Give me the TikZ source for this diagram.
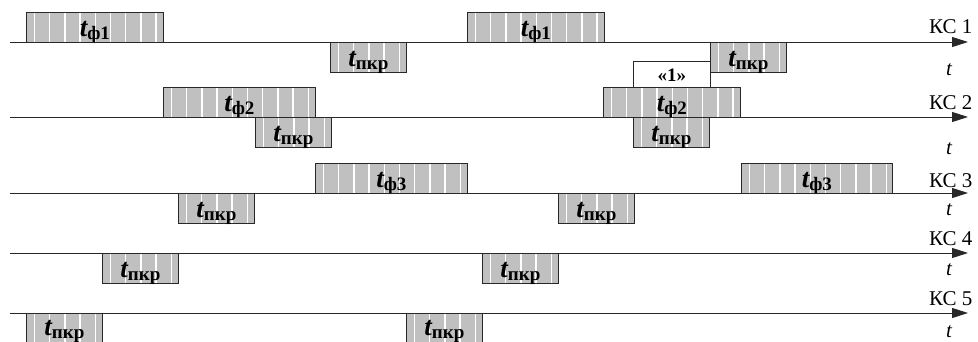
\documentclass[tikz,border=0pt]{standalone}
\usepackage{fontspec}
\setmainfont{Liberation Serif}
\usetikzlibrary{arrows.meta}
\definecolor{boxgray}{RGB}{192,192,192}
\definecolor{edgec}{RGB}{40,40,40}
\newcommand{\lbl}[1]{{\fontsize{27}{27}\selectfont\bfseries\itshape t}\raisebox{-3pt}{\fontsize{19}{19}\selectfont\bfseries #1}}
\tikzset{
  slot/.style={draw=edgec, line width=0.8pt, fill=boxgray, inner sep=0pt, anchor=north west,
    minimum height=30pt, text height=20pt, text depth=2pt,
    path picture={\foreach \k in {0,...,10}{\draw[white, line width=1.4pt]
      ([xshift=8pt+\k*15.2pt]path picture bounding box.south west) --
      ([xshift=8pt+\k*15.2pt]path picture bounding box.north west);}}},
  shortslot/.style={slot, minimum width=76pt},
  markbox/.style={draw=edgec, line width=0.8pt, fill=white, inner sep=0pt, anchor=north west,
    minimum width=77pt, minimum height=27pt, font=\fontsize{19}{19}\selectfont\bfseries},
  axis/.style={draw=edgec, line width=0.9pt, -{Triangle[length=16pt,width=10pt]}},
  kslabel/.style={anchor=base east, font=\fontsize{21}{21}\selectfont},
  tlabel/.style={anchor=base, font=\fontsize{21}{21}\selectfont\itshape}
}
\begin{document}
\begin{tikzpicture}[x=1pt,y=-1pt]
\useasboundingbox (0,0) rectangle (978,342);
\clip (0,0) rectangle (978,342);
% KC1
\node[slot, minimum width=137pt] (f1a) at (26,12) {\lbl{ф1}};
\node[shortslot] (p1a) at (330,42) {\lbl{пкр}};
\node[slot, minimum width=137pt] (f1b) at (467,12) {\lbl{ф1}};
\node[shortslot] (p1b) at (710,42) {\lbl{пкр}};
\node[markbox] (one) at (633,61) {«1»};
% KC2
\node[slot, minimum width=152pt] (f2a) at (163,87) {\lbl{ф2}};
\node[shortslot] (p2a) at (255,117) {\lbl{пкр}};
\node[slot, minimum width=137pt] (f2b) at (603,87) {\lbl{ф2}};
\node[shortslot] (p2b) at (633,117) {\lbl{пкр}};
% KC3
\node[slot, minimum width=152pt] (f3a) at (315,163) {\lbl{ф3}};
\node[shortslot] (p3a) at (178,193) {\lbl{пкр}};
\node[shortslot] (p3b) at (558,193) {\lbl{пкр}};
\node[slot, minimum width=151pt] (f3b) at (741,163) {\lbl{ф3}};
% KC4
\node[shortslot] (p4a) at (102,253) {\lbl{пкр}};
\node[shortslot] (p4b) at (482,253) {\lbl{пкр}};
% KC5
\node[shortslot, text height=18pt, text depth=4pt] (p5a) at (26,313) {\lbl{пкр}};
\node[shortslot, text height=18pt, text depth=4pt] (p5b) at (406,313) {\lbl{пкр}};
% axes
\foreach \n/\y/\kb/\tb in {1/42/34/76, 2/117/110/155, 3/193/188/215, 4/253/245/275, 5/313/305/337}{
  \coordinate (s\n) at (10,\y);
  \coordinate (e\n) at (968,\y);
  \draw[axis] (s\n) -- (e\n);
  \node[kslabel] (ks\n) at (976,\kb) {КС \n};
  \node[tlabel] (t\n) at (949,\tb) {t};
}
\end{tikzpicture}
\end{document}
